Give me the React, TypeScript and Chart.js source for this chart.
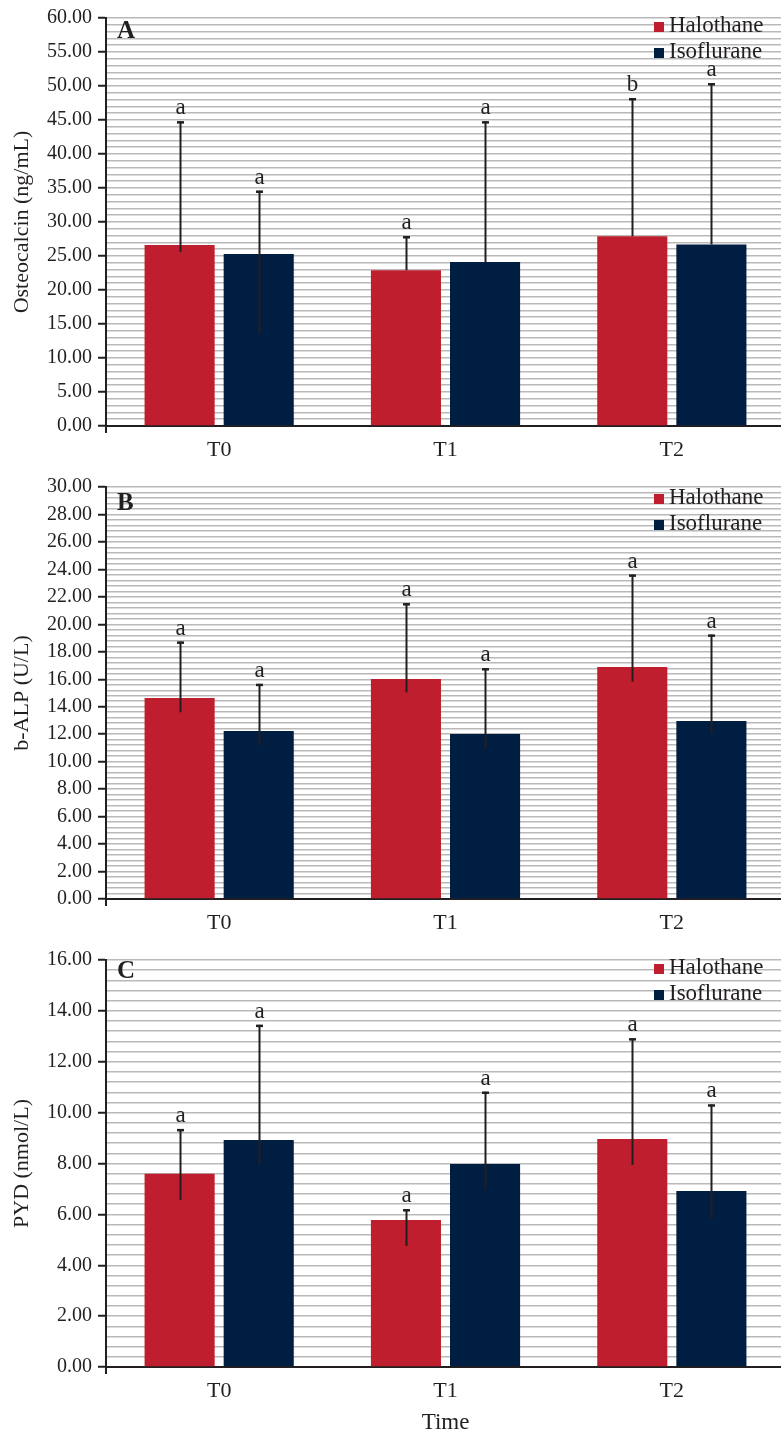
import React, { useEffect, useRef } from 'react';
import { Chart, registerables } from 'chart.js';

Chart.register(...registerables);

// ---------- data ----------
const categories = ['T0', 'T1', 'T2'];
const seriesNames = ['Halothane', 'Isoflurane'];
const seriesColors = ['#be1e2d', '#001d42'];

// Panel A: Osteocalcin (ng/mL)
const oscHalothane = [26.6, 22.9, 27.9];
const oscIsoflurane = [25.3, 24.1, 26.7];
const oscHalothaneHigh = [44.8, 27.9, 48.2];
const oscIsofluraneHigh = [34.6, 44.8, 50.4];
const oscHalothaneLow = [25.6, 22.9, 27.9];
const oscIsofluraneLow = [13.5, 24.1, 26.7];
const oscHalothaneLetters = ['a', 'a', 'b'];
const oscIsofluraneLetters = ['a', 'a', 'a'];
const oscAxis = [0, 60, 5, 1]; // min, max, major step, minor step

// Panel B: b-ALP (U/L)
const alpHalothane = [14.64, 16.02, 16.9];
const alpIsoflurane = [12.24, 12.02, 12.96];
const alpHalothaneHigh = [18.74, 21.53, 23.62];
const alpIsofluraneHigh = [15.66, 16.8, 19.25];
const alpHalothaneLow = [13.6, 15.05, 15.83];
const alpIsofluraneLow = [11.17, 10.92, 12.02];
const alpHalothaneLetters = ['a', 'a', 'a'];
const alpIsofluraneLetters = ['a', 'a', 'a'];
const alpAxis = [0, 30, 2, 0.4];

// Panel C: PYD (nmol/L)
const pydHalothane = [7.6, 5.78, 8.96];
const pydIsoflurane = [8.92, 7.98, 6.92];
const pydHalothaneHigh = [9.35, 6.2, 12.92];
const pydIsofluraneHigh = [13.45, 10.82, 10.32];
const pydHalothaneLow = [6.56, 4.76, 7.94];
const pydIsofluraneLow = [7.94, 6.96, 5.86];
const pydHalothaneLetters = ['a', 'a', 'a'];
const pydIsofluraneLetters = ['a', 'a', 'a'];
const pydAxis = [0, 16, 2, 0.4];

const yTitles = ['Osteocalcin (ng/mL)', 'b-ALP (U/L)', 'PYD (nmol/L)'];
const panelLetters = ['A', 'B', 'C'];
const xTitle = 'Time';

// ---------- layout (page pixels) ----------
const INK = '#231f20';
const FONT = '"Liberation Serif", "Times New Roman", serif';
const CANVAS_W = 790;

const panels = [
  {
    letter: panelLetters[0], title: yTitles[0], axis: oscAxis,
    values: [oscHalothane, oscIsoflurane], high: [oscHalothaneHigh, oscIsofluraneHigh],
    low: [oscHalothaneLow, oscIsofluraneLow], letters: [oscHalothaneLetters, oscIsofluraneLetters],
    top: 0, height: 462, padTop: 15, xHeight: 36, legendY: 22, letterY: 38, xTitle: '',
  },
  {
    letter: panelLetters[1], title: yTitles[1], axis: alpAxis,
    values: [alpHalothane, alpIsoflurane], high: [alpHalothaneHigh, alpIsofluraneHigh],
    low: [alpHalothaneLow, alpIsofluraneLow], letters: [alpHalothaneLetters, alpIsofluraneLetters],
    top: 462, height: 472, padTop: 25, xHeight: 35, legendY: 32, letterY: 48, xTitle: '',
  },
  {
    letter: panelLetters[2], title: yTitles[2], axis: pydAxis,
    values: [pydHalothane, pydIsoflurane], high: [pydHalothaneHigh, pydIsofluraneHigh],
    low: [pydHalothaneLow, pydIsofluraneLow], letters: [pydHalothaneLetters, pydIsofluraneLetters],
    top: 934, height: 503, padTop: 26, xHeight: 70, legendY: 30, letterY: 44, xTitle: xTitle,
  },
];

const decorPlugin = {
  id: 'decor',
  afterDatasetsDraw(chart: any, _args: any, opts: any) {
    const ctx = chart.ctx;
    const ys = chart.scales.y;
    const area = chart.chartArea;
    ctx.save();
    // error bars + significance letters
    opts.high.forEach((arr: number[], di: number) => {
      const meta = chart.getDatasetMeta(di);
      arr.forEach((hv: number, i: number) => {
        const bar = meta.data[i];
        if (!bar) return;
        const x = Math.round(bar.x) + 0.5;
        const yh = ys.getPixelForValue(hv);
        const yl = ys.getPixelForValue(opts.low[di][i]);
        ctx.strokeStyle = INK;
        ctx.lineWidth = 2;
        ctx.beginPath();
        ctx.moveTo(x, yl);
        ctx.lineTo(x, yh);
        ctx.stroke();
        ctx.lineWidth = 2.5;
        ctx.beginPath();
        ctx.moveTo(x - 3.5, yh + 1);
        ctx.lineTo(x + 3.5, yh + 1);
        ctx.stroke();
        ctx.fillStyle = INK;
        ctx.font = `23px ${FONT}`;
        ctx.textAlign = 'center';
        ctx.textBaseline = 'alphabetic';
        ctx.fillText(opts.letters[di][i], x, yh - 7);
      });
    });
    // y axis extension below x axis
    ctx.strokeStyle = INK;
    ctx.lineWidth = 2;
    ctx.beginPath();
    ctx.moveTo(area.left, area.bottom);
    ctx.lineTo(area.left, area.bottom + 7);
    ctx.stroke();
    // panel letter
    ctx.fillStyle = INK;
    ctx.font = `bold 25px ${FONT}`;
    ctx.textAlign = 'left';
    ctx.textBaseline = 'alphabetic';
    ctx.fillText(opts.letter, area.left + 11, opts.letterY);
    // legend
    seriesNames.forEach((name, k) => {
      const y0 = opts.legendY + k * 26;
      ctx.fillStyle = seriesColors[k];
      ctx.fillRect(area.left + 548, y0, 10, 10);
      ctx.fillStyle = INK;
      ctx.font = `23px ${FONT}`;
      ctx.fillText(name, area.left + 563, y0 + 10);
    });
    ctx.restore();
  },
};

function makeConfig(p: any) {
  const [min, max, major, minor] = p.axis;
  const isMajor = (v: number) => {
    const r = v / major;
    return Math.abs(r - Math.round(r)) < 1e-6;
  };
  return {
    type: 'bar',
    data: {
      labels: categories,
      datasets: seriesNames.map((name, k) => ({
        label: name,
        data: p.values[k],
        backgroundColor: seriesColors[k],
        borderWidth: 0,
        barPercentage: 0.886,
        categoryPercentage: 0.699,
      })),
    },
    options: {
      responsive: false,
      animation: false,
      devicePixelRatio: 1,
      layout: { padding: { top: p.padTop, right: 5, left: 0, bottom: 0 } },
      plugins: {
        legend: { display: false },
        tooltip: { enabled: false },
        decor: {
          high: p.high, low: p.low, letters: p.letters, letter: p.letter,
          legendY: p.legendY, letterY: p.letterY,
        },
      },
      scales: {
        x: {
          type: 'category',
          grid: { display: false, drawTicks: false },
          border: { display: true, color: INK, width: 2 },
          ticks: { color: INK, font: { family: FONT, size: 22 }, padding: 11, maxRotation: 0 },
          title: p.xTitle
            ? { display: true, text: p.xTitle, color: INK, font: { family: FONT, size: 23 }, padding: { top: 0, bottom: 0 } }
            : { display: false },
          afterFit: (s: any) => { s.height = p.xHeight; },
        },
        y: {
          type: 'linear',
          min, max,
          ticks: {
            stepSize: minor,
            autoSkip: false,
            color: INK,
            font: { family: FONT, size: 20 },
            padding: 6,
            callback: (v: any) => (isMajor(Number(v)) ? Number(v).toFixed(2) : ''),
          },
          grid: {
            color: '#b9b9b9',
            lineWidth: 1.5,
            drawTicks: true,
            tickLength: 8,
            tickWidth: 2,
            tickColor: (c: any) => (c.tick && isMajor(c.tick.value) ? INK : 'rgba(0,0,0,0)'),
          },
          border: { display: true, color: INK, width: 2 },
          title: { display: true, text: p.title, color: INK, font: { family: FONT, size: 22 }, padding: { top: 9, bottom: 0 } },
          afterFit: (s: any) => { s.width = 106; },
        },
      },
    },
    plugins: [decorPlugin],
  };
}

function PanelChart({ p }: { p: any }) {
  const ref = useRef<HTMLCanvasElement>(null);
  useEffect(() => {
    const chart = new Chart(ref.current as HTMLCanvasElement, makeConfig(p) as any);
    return () => chart.destroy();
  }, [p]);
  return (
    <canvas
      ref={ref}
      width={CANVAS_W}
      height={p.height}
      style={{ position: 'absolute', left: 0, top: p.top, width: CANVAS_W, height: p.height, display: 'block' }}
    />
  );
}

export default function App() {
  useEffect(() => {
    document.body.style.margin = '0';
    document.body.style.background = '#ffffff';
  }, []);
  return (
    <div style={{ position: 'absolute', left: 0, top: 0, width: 781, height: 1433, overflow: 'hidden', background: '#fff' }}>
      {panels.map((p, i) => (
        <PanelChart key={i} p={p} />
      ))}
    </div>
  );
}
